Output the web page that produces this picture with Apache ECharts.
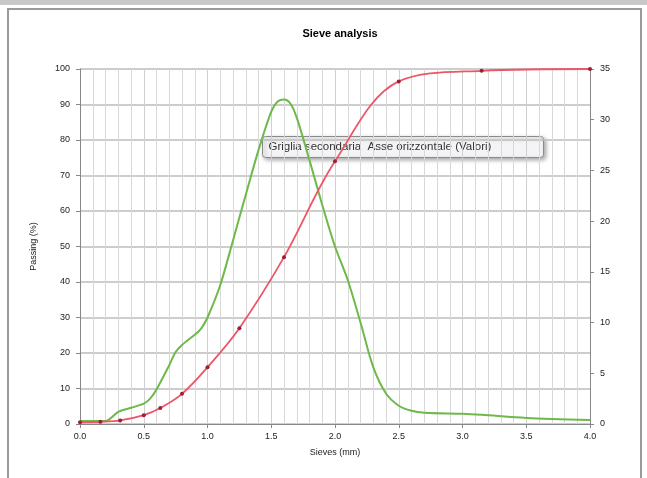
<!DOCTYPE html>
<html>
<head>
<meta charset="utf-8">
<script src="https://cdn.jsdelivr.net/npm/echarts@6/dist/echarts.min.js"></script>
<style>
  html, body { margin: 0; padding: 0; background: #fff; }
  #chart { width: 647px; height: 478px; }
</style>
</head>
<body>
<div id="chart"></div>
<script>
// sieve sizes (mm) and cumulative passing (%)
const sieveSizes = [0, 0.16, 0.315, 0.5, 0.63, 0.8, 1.0, 1.25, 1.6, 2.0, 2.5, 3.15, 4.0];
const passing = [0.5, 0.6, 1.0, 2.5, 4.5, 8.5, 16, 27, 47, 74, 96.5, 99.5, 100];

// distribution curve (right axis)
const distX = [0, 0.2, 0.3, 0.4, 0.5, 0.55, 0.6, 0.7, 0.75, 0.8, 0.9, 0.95, 1.0, 1.1, 1.2, 1.3, 1.4, 1.5, 1.55, 1.6, 1.65, 1.7, 1.8, 1.9, 2.0, 2.1, 2.2, 2.3, 2.4, 2.5, 2.6, 2.7, 3.0, 3.15, 3.5, 4.0];
const distY = [0.3, 0.3, 1.2, 1.6, 2.0, 2.5, 3.4, 5.8, 7.1, 7.8, 8.8, 9.4, 10.5, 13.7, 18.1, 22.6, 27, 30.8, 31.8, 32, 31.6, 30.2, 26, 21.6, 17.5, 14.2, 10, 5.6, 3.0, 1.8, 1.3, 1.1, 1.0, 0.9, 0.6, 0.4];

const xTicks = ["0.0", "0.5", "1.0", "1.5", "2.0", "2.5", "3.0", "3.5", "4.0"];

const chart = echarts.init(document.getElementById("chart"));
const font = "Liberation Sans, Arial, sans-serif";

chart.setOption({
  animation: false,
  textStyle: { fontFamily: font },
  title: {
    text: "Sieve analysis",
    left: 335, top: 23, textAlign: "center",
    textStyle: { fontSize: 11, fontWeight: "bold", color: "#000" }
  },
  grid: { left: 80, right: 57, top: 69, bottom: 54 },
  xAxis: {
    type: "value", min: 0, max: 4, interval: 0.5,
    name: "Sieves (mm)", nameLocation: "middle", nameGap: 24,
    nameTextStyle: { fontSize: 9, color: "#222" },
    axisLine: { show: true, lineStyle: { color: "#888" } },
    axisTick: { show: true, length: 4, lineStyle: { color: "#888" } },
    axisLabel: { fontSize: 9, color: "#222", margin: 8,
      formatter: v => xTicks[Math.round(v / 0.5)] },
    splitLine: { show: true, lineStyle: { color: "#cfcfcf", width: 1 } },
    minorTick: { show: false, splitNumber: 5 },
    minorSplitLine: { show: true, lineStyle: { color: "#d8d8d8", width: 1 } }
  },
  yAxis: [
    {
      type: "value", min: 0, max: 100, interval: 10,
      name: "Passing (%)", nameLocation: "middle", nameGap: 42,
      nameTextStyle: { fontSize: 9, color: "#222" },
      axisLine: { show: true, lineStyle: { color: "#888" } },
      axisTick: { show: true, length: 4, lineStyle: { color: "#888" } },
      axisLabel: { fontSize: 9, color: "#222", margin: 10 },
      splitLine: { show: true, lineStyle: { color: "#bdbdbd", width: 1.5 } }
    },
    {
      type: "value", min: 0, max: 35, interval: 5, position: "right",
      axisLine: { show: true, lineStyle: { color: "#888" } },
      axisTick: { show: true, length: 4, lineStyle: { color: "#888" } },
      axisLabel: { fontSize: 9, color: "#222", margin: 10 },
      splitLine: { show: false }
    }
  ],
  graphic: [
    {
      type: "rect", left: 7, top: 8, silent: true, z: -10,
      shape: { width: 633, height: 475 },
      style: { fill: "#fff", stroke: "#9a9a9a", lineWidth: 2 }
    },
    {
      type: "rect", left: 0, top: 0, z: -9, silent: true,
      shape: { width: 647, height: 5 },
      style: { fill: "#c8c8c8" }
    },
    {
      type: "group", left: 262, top: 136, z: 100,
      children: [
        {
          type: "rect", shape: { width: 281, height: 21, r: 3 },
          style: { fill: "#f4f4f6", stroke: "#8a8a8a", lineWidth: 1,
            shadowBlur: 4, shadowOffsetX: 2, shadowOffsetY: 2, shadowColor: "rgba(0,0,0,0.35)" }
        },
        {
          type: "text", left: 6, top: 4,
          style: { text: "Griglia secondaria  Asse orizzontale (Valori)", fontSize: 11.5, fill: "#333", fontFamily: font }
        }
      ]
    }
  ],
  series: [
    {
      name: "Distribution", type: "line", yAxisIndex: 1,
      data: distX.map((x, i) => [x, distY[i]]),
      smooth: 0.3, showSymbol: false,
      lineStyle: { color: "#6fb84a", width: 2 },
      itemStyle: { color: "#6fb84a" }, z: 3
    },
    {
      name: "Passing", type: "line", yAxisIndex: 0,
      data: sieveSizes.map((x, i) => [x, passing[i]]),
      smooth: 0.35, symbol: "circle", symbolSize: 4,
      lineStyle: { color: "#ee5566", width: 1.8 },
      itemStyle: { color: "#9c1f35" }, z: 4
    }
  ]
});
</script>
</body>
</html>
